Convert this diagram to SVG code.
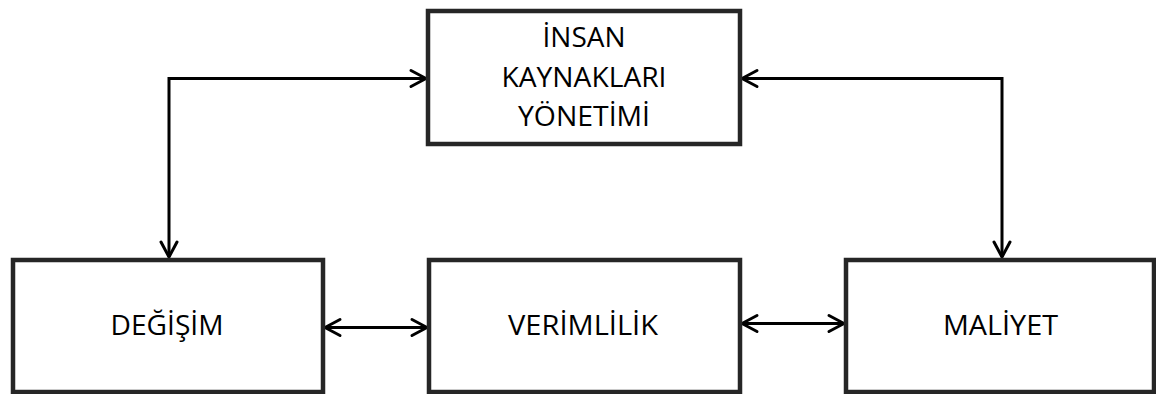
<svg xmlns="http://www.w3.org/2000/svg" width="1156" height="394" viewBox="0 0 1156 394">
  <style>
    .box { fill: #ffffff; stroke: #262626; stroke-width: 4.5; }
    .label { font-family: "Open Sans", "Liberation Sans", sans-serif; font-size: 27px; fill: #000000; text-anchor: middle; }
    .link { fill: none; stroke: #000000; stroke-width: 3; }
  </style>
  <defs>
    <marker id="head" markerUnits="userSpaceOnUse" markerWidth="24" markerHeight="24" viewBox="-18 -12 24 24" refX="0" refY="0" orient="auto-start-reverse">
      <path d="M-15,-8 L0,0 L-15,8" fill="none" stroke="#000000" stroke-width="3" stroke-linejoin="round" stroke-linecap="round"/>
    </marker>
  </defs>
  <rect width="1156" height="394" fill="#ffffff"/>

  <g id="connectors">
    <path class="link" d="M169,257 L169,78.5 L426,78.5" marker-start="url(#head)" marker-end="url(#head)"/>
    <path class="link" d="M742,78.5 L1002,78.5 L1002,257" marker-start="url(#head)" marker-end="url(#head)"/>
    <path class="link" d="M325,327.5 L427,327.5" marker-start="url(#head)" marker-end="url(#head)"/>
    <path class="link" d="M742,323.5 L844,323.5" marker-start="url(#head)" marker-end="url(#head)"/>
  </g>

  <g id="insan-kaynaklari-yonetimi">
    <rect class="box" x="428" y="11" width="312" height="133"/>
    <text class="label" x="584" y="47" textLength="83" lengthAdjust="spacingAndGlyphs">İNSAN</text>
    <text class="label" x="584" y="86.5" textLength="165" lengthAdjust="spacingAndGlyphs">KAYNAKLARI</text>
    <text class="label" x="584" y="126" textLength="132" lengthAdjust="spacingAndGlyphs">YÖNETİMİ</text>
  </g>

  <g id="degisim">
    <rect class="box" x="13" y="260" width="310" height="132"/>
    <text class="label" x="167" y="335" textLength="113" lengthAdjust="spacingAndGlyphs">DEĞİŞİM</text>
  </g>

  <g id="verimlilik">
    <rect class="box" x="429" y="260" width="311" height="132"/>
    <text class="label" x="583" y="335" textLength="150" lengthAdjust="spacingAndGlyphs">VERİMLİLİK</text>
  </g>

  <g id="maliyet">
    <rect class="box" x="846" y="260" width="308" height="132"/>
    <text class="label" x="1000.5" y="335" textLength="115" lengthAdjust="spacingAndGlyphs">MALİYET</text>
  </g>
</svg>
